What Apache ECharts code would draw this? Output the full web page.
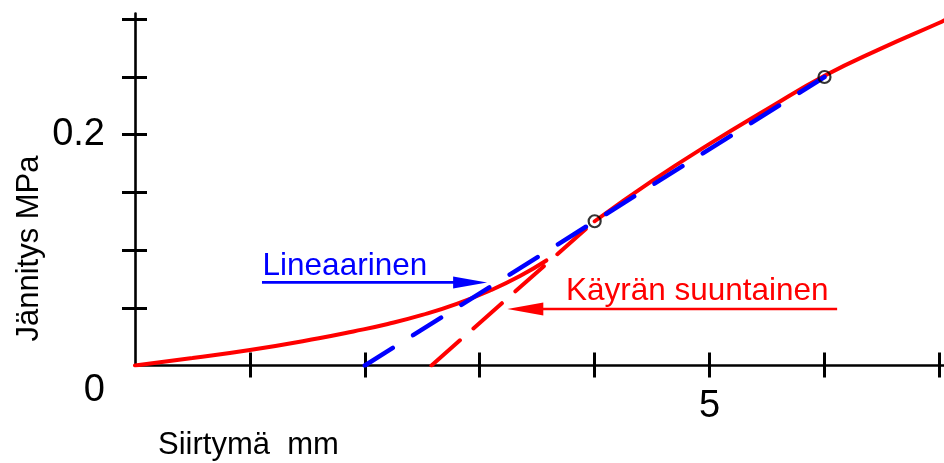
<!DOCTYPE html>
<html>
<head>
<meta charset="utf-8">
<script src="https://cdn.jsdelivr.net/npm/echarts@6/dist/echarts.min.js"></script>
<style>
  html, body { margin: 0; padding: 0; background: #fff; }
  #chart { width: 944px; height: 463px; }
</style>
</head>
<body>
<div id="chart"></div>
<script>
// Stress–displacement curve (break between 3.58 and 4 mm where only the tangent is drawn)
const curveX = [0, 0.5, 1, 1.6, 1.9, 2.2, 2.5, 2.8, 3.1, 3.35, 3.58, 3.8, 4, 4.5, 5, 5.5, 6, 6.5, 7, 7.04];
const curveY = [0, 0.0065, 0.0134, 0.0236, 0.0295, 0.036, 0.0438, 0.0534, 0.0654, 0.0775, 0.091, null, 0.125, 0.160, 0.192, 0.222, 0.251, 0.275, 0.297, 0.299];

// Secant line through the two reference points
const linearX = [2, 6];
const linearY = [0, 0.25];

// Tangent to the curve
const tangentX = [2.58, 4];
const tangentY = [0, 0.125];

// Reference points marked with circles
const pointX = [4, 6];
const pointY = [0.125, 0.25];

// Axis ticks and labels
const xTicks = [1, 2, 3, 4, 5, 6, 7];
const xLabels = [5];
const yTicks = [0.05, 0.1, 0.15, 0.2, 0.25, 0.3];
const yLabels = [0, 0.2];

// Annotation texts and arrow anchors (in data units)
const linearText = 'Lineaarinen';
const tangentText = 'Käyrän suuntainen';
const linearTextAt = [1.11, 0.0862];
const tangentTextAt = [3.75, 0.0646];
const linearArrow = [[1.105, 0.072], [3.064, 0.072]];
const tangentArrow = [[6.11, 0.049], [3.24, 0.049]];
const xName = 'Siirtymä  mm';
const yName = 'Jännitys MPa';

const zip = (xs, ys) => xs.map((x, i) => [x, ys[i] === null ? '-' : ys[i]]);

const FONT = '"Liberation Sans", Arial, sans-serif';
const RED = '#ff0000';
const BLUE = '#0000ff';

const chart = echarts.init(document.getElementById('chart'), null, { renderer: 'canvas' });

const xBase = {
  type: 'value', min: 0, max: 7.04, position: 'bottom',
  splitLine: { show: false }
};
const yBase = {
  type: 'value', min: 0, max: 0.305, position: 'left',
  splitLine: { show: false }
};

chart.setOption({
  animation: false,
  backgroundColor: '#fff',
  grid: { left: 135, right: 0, top: 13.5, bottom: 97.5, containLabel: false },
  xAxis: [
    Object.assign({}, xBase, {
      axisLine: { show: true, onZero: false, lineStyle: { color: '#000', width: 2.6 } },
      axisTick: { show: true, inside: false, length: 12, customValues: xTicks, lineStyle: { color: '#000', width: 3 } },
      axisLabel: { show: true, customValues: xLabels, margin: 22, color: '#000', fontSize: 38, fontFamily: FONT }
    }),
    Object.assign({}, xBase, {
      axisLine: { show: false, onZero: false },
      axisTick: { show: true, inside: true, length: 13, customValues: xTicks, lineStyle: { color: '#000', width: 3 } },
      axisLabel: { show: false }
    })
  ],
  yAxis: [
    Object.assign({}, yBase, {
      axisLine: { show: true, onZero: false, lineStyle: { color: '#000', width: 2.6 } },
      axisTick: { show: true, inside: false, length: 13, customValues: yTicks, lineStyle: { color: '#000', width: 3 } },
      axisLabel: {
        show: true, customValues: yLabels, margin: 30, color: '#000',
        fontSize: 38, fontFamily: FONT,
        formatter: v => (v === 0 ? '{z|0}' : '{a|' + v + '}'),
        rich: {
          z: { fontSize: 38, fontFamily: FONT, color: '#000', padding: [50, 0, 0, 0] },
          a: { fontSize: 38, fontFamily: FONT, color: '#000' }
        }
      }
    }),
    Object.assign({}, yBase, {
      axisLine: { show: false, onZero: false },
      axisTick: { show: true, inside: true, length: 12, customValues: yTicks, lineStyle: { color: '#000', width: 3 } },
      axisLabel: { show: false }
    })
  ],
  series: [
    {
      name: 'curve', type: 'line', smooth: 0.5, showSymbol: false, connectNulls: false,
      data: zip(curveX, curveY),
      lineStyle: { color: RED, width: 4, cap: 'round' }, z: 3
    },
    {
      name: 'tangent', type: 'line', showSymbol: false,
      data: zip(tangentX, tangentY),
      lineStyle: { color: RED, width: 4, type: [38, 18], cap: 'round' }, z: 2
    },
    {
      name: 'linear', type: 'line', showSymbol: false,
      data: zip(linearX, linearY),
      lineStyle: { color: BLUE, width: 4.5, type: [33, 24], cap: 'round' }, z: 4
    },
    {
      name: 'points', type: 'scatter', symbol: 'circle', symbolSize: 12,
      data: zip(pointX, pointY),
      itemStyle: { color: 'rgba(0,0,0,0)', borderColor: '#000', borderWidth: 2.2 }, z: 5
    }
  ]
});

// Annotations: arrows and their texts, placed through the chart's own coordinate system
function px(pt) {
  return chart.convertToPixel({ xAxisIndex: 0, yAxisIndex: 0 }, pt);
}
function arrow(seg, color, headLen, halfW, width) {
  const a = px(seg[0]);
  const b = px(seg[1]);
  const dx = b[0] - a[0], dy = b[1] - a[1];
  const len = Math.hypot(dx, dy);
  const ux = dx / len, uy = dy / len;
  const bx = b[0] - ux * headLen, by = b[1] - uy * headLen;
  return [
    {
      type: 'line', silent: true, z: 10,
      shape: { x1: a[0], y1: a[1], x2: bx + ux * 2, y2: by + uy * 2 },
      style: { stroke: color, lineWidth: width }
    },
    {
      type: 'polygon', silent: true, z: 10,
      shape: { points: [[b[0], b[1]], [bx - uy * halfW, by + ux * halfW], [bx + uy * halfW, by - ux * halfW]] },
      style: { fill: color }
    }
  ];
}
function label(text, at, color) {
  const p = px(at);
  return {
    type: 'text', silent: true, z: 10, x: p[0], y: p[1],
    style: { text: text, fill: color, font: '31.5px ' + FONT, align: 'left', verticalAlign: 'middle' }
  };
}

chart.setOption({
  graphic: [
    ...arrow(linearArrow, BLUE, 34, 6, 2.6),
    ...arrow(tangentArrow, RED, 36, 6.5, 2.6),
    label(linearText, linearTextAt, BLUE),
    label(tangentText, tangentTextAt, RED),
    {
      type: 'text', silent: true, x: 158, y: 445,
      style: { text: xName, fill: '#000', font: '31px ' + FONT, align: 'left', verticalAlign: 'middle' }
    },
    {
      type: 'text', silent: true, x: 29, y: 248.5, rotation: Math.PI / 2,
      style: { text: yName, fill: '#000', font: '31px ' + FONT, align: 'center', verticalAlign: 'middle' }
    }
  ]
});
</script>
</body>
</html>
